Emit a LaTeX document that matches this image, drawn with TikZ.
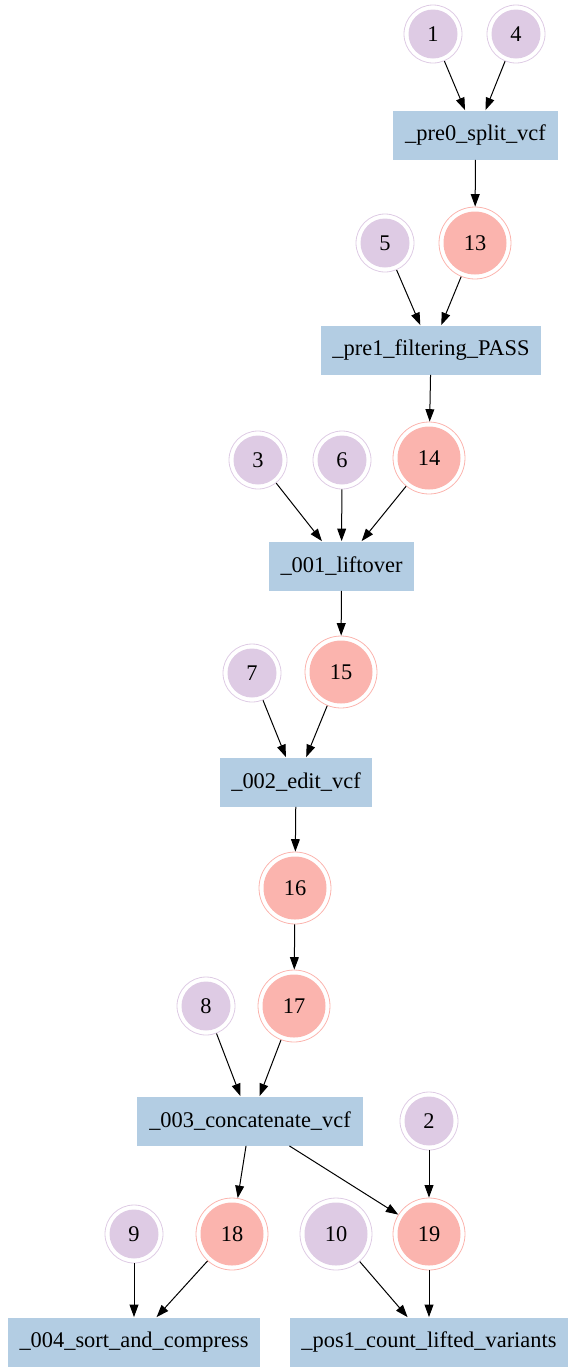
\documentclass[tikz,border=0pt]{standalone}
\usepackage{fontspec}
\setmainfont{Liberation Serif}
\usepackage{tikz}
\usetikzlibrary{arrows.meta}

\definecolor{lilac}{HTML}{DECBE4}
\definecolor{salmon}{HTML}{FBB4AE}
\definecolor{steel}{HTML}{B3CDE3}

\tikzset{
	task/.style={rectangle, fill=steel, inner xsep=5.9pt, minimum height=24.5pt},
	ring/.style={circle, draw=#1, line width=0.4pt,
		path picture={\fill[#1] (path picture bounding box.center) circle (\inner);}},
	inputfile/.style={ring=lilac, minimum size=29pt},
	outputfile/.style={ring=salmon, minimum size=36pt},
	flow/.style={-{Triangle[length=6.2pt, width=4.4pt]}, line width=0.5pt}
}

\begin{document}
\begin{tikzpicture}[x=0.5pt, y=-0.5pt, font=\fontsize{11.2}{13}\selectfont]
	\def \inner {12.25pt}

	\useasboundingbox (0,0) rectangle (577,1372);

	% tasks
	\node[task] (pre0) at (475.5,135)  {\_pre0\_split\_vcf};
	\node[task] (pre1) at (431,350)    {\_pre1\_filtering\_PASS};
	\node[task] (lift) at (341.5,566)  {\_001\_liftover};
	\node[task] (edit) at (296,782)    {\_002\_edit\_vcf};
	\node[task] (concat) at (250,1121) {\_003\_concatenate\_vcf};
	\node[task] (sort) at (134,1342)   {\_004\_sort\_and\_compress};
	\node[task] (count) at (429,1342)  {\_pos1\_count\_lifted\_variants};

	% input files
	\node[inputfile] (one)   at (433,34)   {1};
	\node[inputfile] (four)  at (516,34)   {4};
	\node[inputfile] (five)  at (385,243)  {5};
	\node[inputfile] (three) at (258,460)  {3};
	\node[inputfile] (six)   at (342,460)  {6};
	\node[inputfile] (seven) at (252,673)  {7};
	\node[inputfile] (eight) at (206,1006) {8};
	\node[inputfile] (two)   at (429,1121) {2};
	\node[inputfile] (nine)  at (134,1234) {9};

	% output files
	\def \inner {15.75pt}
	\node[outputfile] (thirteen)  at (475,243)  {13};
	\node[outputfile] (fourteen)  at (429,458)  {14};
	\node[outputfile] (fifteen)   at (341,672)  {15};
	\node[outputfile] (sixteen)   at (295,888)  {16};
	\node[outputfile] (seventeen) at (294,1006) {17};
	\node[outputfile] (eighteen)  at (232,1234) {18};
	\node[outputfile] (nineteen)  at (429,1234) {19};
	\node[inputfile, minimum size=36pt] (ten) at (336,1234) {10};

	\draw[flow] (one) -- (pre0);
	\draw[flow] (four) -- (pre0);
	\draw[flow] (pre0) -- (thirteen);
	\draw[flow] (five) -- (pre1);
	\draw[flow] (thirteen) -- (pre1);
	\draw[flow] (pre1) -- (fourteen);
	\draw[flow] (three) -- (lift);
	\draw[flow] (six) -- (lift);
	\draw[flow] (fourteen) -- (lift);
	\draw[flow] (lift) -- (fifteen);
	\draw[flow] (seven) -- (edit);
	\draw[flow] (fifteen) -- (edit);
	\draw[flow] (edit) -- (sixteen);
	\draw[flow] (sixteen) -- (seventeen);
	\draw[flow] (eight) -- (concat);
	\draw[flow] (seventeen) -- (concat);
	\draw[flow] (concat) -- (eighteen);
	\draw[flow] (concat) -- (nineteen);
	\draw[flow] (two) -- (nineteen);
	\draw[flow] (nine) -- (sort);
	\draw[flow] (eighteen) -- (sort);
	\draw[flow] (ten) -- (count);
	\draw[flow] (nineteen) -- (count);
\end{tikzpicture}
\end{document}
